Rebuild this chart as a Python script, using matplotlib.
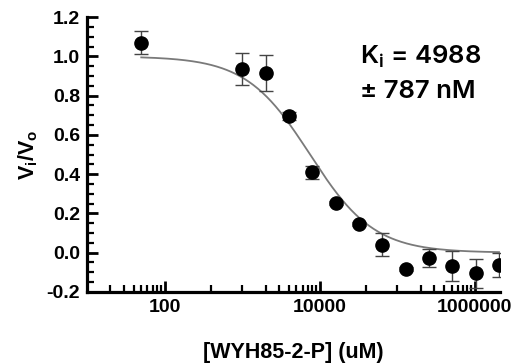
import matplotlib
matplotlib.use('Agg')
import matplotlib.pyplot as plt
import numpy as np
from matplotlib.ticker import FixedLocator, NullFormatter, FixedFormatter, MultipleLocator

# ---- data ----
conc = [50, 1000, 2000, 4000, 8000, 16000, 32000, 64000, 128000, 256000, 512000, 1024000, 2048000]
vi_vo = [1.07, 0.935, 0.915, 0.695, 0.41, 0.253, 0.146, 0.041, -0.083, -0.027, -0.068, -0.105, -0.063]
err = [0.06, 0.08, 0.09, 0.02, 0.034, 0.01, 0.01, 0.06, 0.01, 0.047, 0.075, 0.073, 0.062]

# fitted dose-response parameters
fit_top = 1.0
fit_bottom = 0.0
fit_ic50 = 7500.0
fit_hill = 1.05

x_major = [100, 10000, 1000000]
x_major_labels = ['100', '10000', '1000000']
x_minor = [20, 30, 40, 50, 60, 70, 80, 90, 400,
           1000, 2000, 3000, 4000, 5000, 6000, 7000, 8000, 9000, 40000,
           100000, 200000, 300000, 400000, 500000, 600000, 700000, 800000, 900000]

xlabel = '[WYH85-2-P] (uM)'
ylabel = r'$\mathbf{V_i/V_o}$'
ki_line1 = r'K$_{\mathregular{i}}$ = 4988'
ki_line2 = '± 787 nM'

plt.rcParams['font.family'] = ['Liberation Sans', 'DejaVu Sans']
plt.rcParams['mathtext.fontset'] = 'custom'
plt.rcParams['mathtext.bf'] = 'Liberation Sans:bold'
plt.rcParams['mathtext.rm'] = 'Inter'

fig = plt.figure(figsize=(5.18, 3.64), dpi=100)
ax = fig.add_axes([0.168, 0.198, 0.797, 0.755])

# fit curve
xc = np.logspace(np.log10(conc[0]), np.log10(conc[-1]), 400)
yc = fit_bottom + (fit_top - fit_bottom) / (1 + (xc / fit_ic50) ** fit_hill)
ax.plot(xc, yc, color='#7a7a7a', lw=1.3, zorder=2)

ax.errorbar(conc, vi_vo, yerr=err, fmt='o', color='black', ms=9.5,
            ecolor='#444444', elinewidth=1.0, capsize=5, capthick=1.0, zorder=3)

ax.set_xscale('log')
ax.set_xlim(10, 2.1e6)
ax.set_ylim(-0.2, 1.2)

ax.xaxis.set_major_locator(FixedLocator(x_major))
ax.xaxis.set_major_formatter(FixedFormatter(x_major_labels))
ax.xaxis.set_minor_locator(FixedLocator(x_minor))
ax.xaxis.set_minor_formatter(NullFormatter())

ax.yaxis.set_major_locator(MultipleLocator(0.2))
ax.yaxis.set_minor_locator(MultipleLocator(0.05))
ax.yaxis.set_major_formatter(matplotlib.ticker.FuncFormatter(lambda v, p: f'{v:.1f}'))

for s in ['top', 'right']:
    ax.spines[s].set_visible(False)
for s in ['left', 'bottom']:
    ax.spines[s].set_linewidth(2.3)

ax.tick_params(which='major', direction='in', length=8, width=2.0, labelsize=14, pad=5)
ax.tick_params(which='minor', direction='in', length=5, width=1.6)
for lab in ax.get_xticklabels() + ax.get_yticklabels():
    lab.set_fontweight('bold')

ax.set_xlabel(xlabel, fontsize=15.5, fontweight='bold', labelpad=19)
ax.set_ylabel(ylabel, fontsize=15.5, labelpad=5)

ki_kw = dict(transform=ax.transAxes, fontsize=18.5, fontweight='semibold',
             family=['Inter', 'DejaVu Sans'], ha='left', va='center')
ax.text(0.66, 0.855, ki_line1, **ki_kw)
ax.text(0.66, 0.73, ki_line2, **ki_kw)

fig.savefig('out.png', dpi=100)
